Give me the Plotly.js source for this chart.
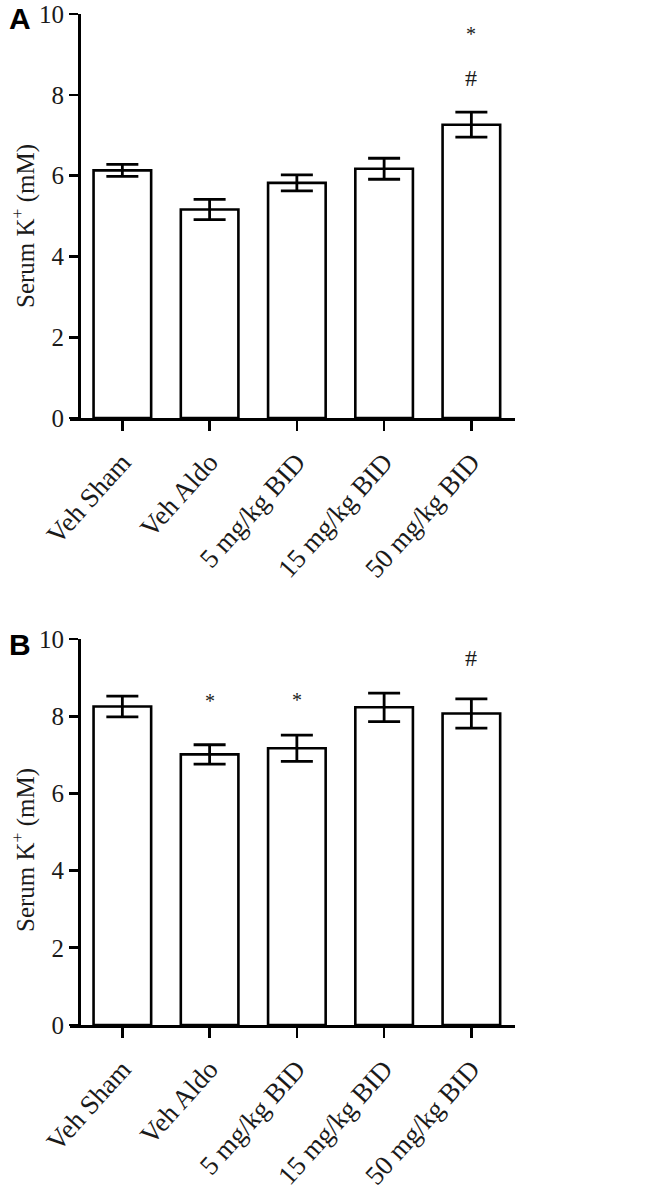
<!DOCTYPE html>
<html>
<head>
<meta charset="utf-8">
<script src="https://cdn.plot.ly/plotly-3.0.1.min.js"></script>
<style>html,body{margin:0;padding:0;background:#fff;}#chart{width:650px;height:1193px;}</style>
</head>
<body>
<div id="chart"></div>
<script>
// ---- data ----
const categories = ['Veh Sham', 'Veh Aldo', '5 mg/kg BID', '15 mg/kg BID', '50 mg/kg BID'];
const meansA = [6.13, 5.16, 5.82, 6.17, 7.26];
const semA   = [0.15, 0.25, 0.20, 0.26, 0.31];
const meansB = [8.25, 7.01, 7.17, 8.23, 8.07];
const semB   = [0.27, 0.25, 0.34, 0.37, 0.38];
const marksA = ['', '', '', '', '*#'];
const marksB = ['', '*', '*', '', '#'];
const yTicks = [0, 2, 4, 6, 8, 10];
const panelLabels = ['A', 'B'];
const yTitle = 'Serum K<sup>+</sup> (mM)';

// ---- layout helpers ----
const W = 650, H = 1193;
const px = x => x / W;
const py = y => 1 - y / H;
const serif = '"Liberation Serif", "Times New Roman", serif';
const ink = '#1a1a1a';
const xIdx = categories.map((c, i) => i);

function barTrace(means, sem, xa, ya) {
  return {
    type: 'bar', x: xIdx, y: means, xaxis: xa, yaxis: ya,
    width: 0.66,
    marker: {color: '#ffffff', line: {color: '#000000', width: 2.6}},
    error_y: {type: 'data', array: sem, visible: true, color: '#000000', thickness: 2.8, width: 16},
    showlegend: false, hoverinfo: 'skip'
  };
}

const traces = [barTrace(meansA, semA, 'x', 'y'), barTrace(meansB, semB, 'x2', 'y2')];

function xAxisDef(anchor) {
  return {
    domain: [px(70), px(515)], anchor: anchor,
    range: [-0.6, 4.5], tickmode: 'array', tickvals: xIdx, ticktext: categories,
    tickangle: -48, ticks: 'outside', ticklen: 10, tickwidth: 2.6, tickcolor: '#000',
    ticklabelstandoff: 5,
    showline: true, linecolor: '#000', linewidth: 2.6,
    showgrid: false, zeroline: false, fixedrange: true,
    tickfont: {family: serif, size: 27, color: ink}
  };
}
function yAxisDef(top, bottom) {
  return {
    domain: [py(bottom), py(top)], anchor: 'free', position: px(79),
    range: [0, 10], tickmode: 'array', tickvals: yTicks,
    ticks: 'outside', ticklen: 9, tickwidth: 2.6, tickcolor: '#000',
    ticklabeloverflow: 'allow',
    showline: true, linecolor: '#000', linewidth: 2.6,
    showgrid: false, zeroline: false, fixedrange: true,
    tickfont: {family: serif, size: 25, color: ink}
  };
}

const annotations = [];
function addMarks(marks, means, sem, xa, ya, shifts) {
  let n = 0;
  marks.forEach((m, i) => {
    if (!m) return;
    m.split('').forEach(ch => {
      annotations.push({
        xref: xa, yref: ya, x: xIdx[i], y: means[i] + sem[i],
        text: ch, showarrow: false, yanchor: 'middle',
        yshift: shifts[n++],
        font: {family: serif, size: ch === '*' ? 20 : 24, color: ink}
      });
    });
  });
}
// pixel offsets of each significance mark above its error bar
addMarks(marksA, meansA, semA, 'x', 'y', [78, 34]);
addMarks(marksB, meansB, semB, 'x2', 'y2', [44, 35, 41]);

// panel letters and y-axis titles
[[panelLabels[0], 18, 226], [panelLabels[1], 644, 850]].forEach(([t, yl, yt]) => {
  annotations.push({
    xref: 'paper', yref: 'paper', x: px(7), y: py(yl), xanchor: 'left', yanchor: 'middle',
    text: '<b>' + t + '</b>', showarrow: false,
    font: {family: '"Liberation Sans", Arial, sans-serif', size: 30, color: '#000'}
  });
  annotations.push({
    xref: 'paper', yref: 'paper', x: px(23), y: py(yt), xanchor: 'center', yanchor: 'middle',
    text: yTitle, textangle: -90, showarrow: false,
    font: {family: serif, size: 25, color: ink}
  });
});

const layout = {
  width: W, height: H,
  margin: {l: 0, r: 0, t: 0, b: 0},
  paper_bgcolor: '#fff', plot_bgcolor: '#fff',
  showlegend: false, bargap: 0,
  xaxis: xAxisDef('y'), yaxis: yAxisDef(14, 418),
  xaxis2: xAxisDef('y2'), yaxis2: yAxisDef(639, 1025),
  annotations: annotations
};

Plotly.newPlot('chart', traces, layout, {displayModeBar: false, staticPlot: true});
</script>
</body>
</html>
